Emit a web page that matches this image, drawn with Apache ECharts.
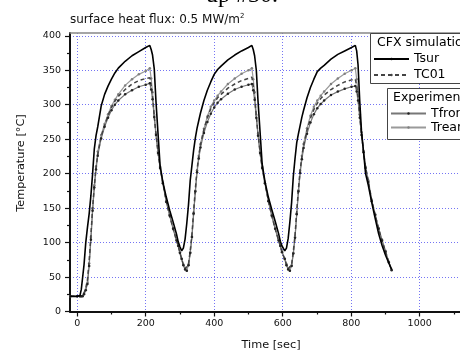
<!DOCTYPE html>
<html>
<head>
<meta charset="utf-8">
<script src="https://cdn.jsdelivr.net/npm/echarts@6/dist/echarts.min.js"></script>
<style>html,body{margin:0;padding:0;background:#fff;}#c{width:460px;height:351px;}</style>
</head>
<body>
<div id="c"></div>
<script>
// time axis samples [sec]
const timeSec = [
  -20,0,8,12,16,20,25,30,35,40,45,50,55,60,70,80,90,100,110,120,140,160,180,200,212,
  216,220,225,230,236,242,250,260,270,280,290,295,300,305,
  310,315,320,325,330,335,340,345,350,355,360,370,380,390,400,410,420,440,460,480,500,510,
  514,518,523,528,534,540,548,558,568,578,588,593,598,606,
  611,616,621,626,631,636,641,646,651,656,661,671,681,691,701,711,721,741,761,781,801,812,
  816,820,825,830,836,842,850,860,870,880,890,900,910,918
];
// CFX simulation
const tsur = [
  22,22,23,32,50,68,100,122,142,168,200,236,255,268,298,315,327,337,346,353,363,371,377,383,386,
  380,372,352,305,258,212,188,166,147,130,112,101,94,88,
  92,105,128,155,190,212,234,252,266,277,288,306,321,333,344,351,356,365,372,378,383,386,
  380,371,350,305,260,214,189,166,148,131,113,102,95,88,
  92,106,130,158,196,222,245,258,270,282,292,310,325,337,348,353,357,366,373,378,383,386,
  378,358,305,262,232,200,183,158,135,113,96,82,70,61
];
const tc01 = [
  22,22,22,22,23,27,34,46,74,110,150,182,208,228,254,270,284,296,305,312,322,330,335,338,339,
  328,312,283,257,231,209,187,160,139,120,103,95,85,76,
  68,62,60,69,88,112,146,178,206,226,242,264,281,294,303,310,315,324,330,335,338,340,
  328,312,283,257,231,209,187,161,139,120,103,95,86,76,
  68,62,60,68,87,111,145,178,205,225,241,263,280,293,302,309,314,322,328,333,336,337,
  327,311,283,258,232,209,189,161,140,120,103,87,71,60
];
// Experiment
const tfront = [
  22,22,22,22,22,25,31,40,66,104,146,180,206,226,251,268,281,292,300,306,315,321,326,329,331,
  322,308,282,256,230,208,186,159,139,120,103,95,85,76,
  67,61,59,67,85,108,142,174,202,222,238,259,275,287,296,303,308,316,322,326,329,330,
  321,307,281,255,230,208,186,160,139,120,103,95,86,76,
  67,61,59,66,84,107,141,174,201,221,237,258,274,286,295,301,306,314,319,323,326,327,
  319,306,281,256,231,208,188,160,140,120,103,87,71,60
];
const trear = [
  22,22,22,22,23,26,32,42,70,108,150,183,210,232,256,272,286,298,307,315,328,337,344,349,353,
  338,318,285,258,232,210,188,160,140,121,104,96,86,77,
  68,62,59,68,86,108,142,175,205,226,243,265,283,297,306,313,319,330,338,345,350,353,
  337,318,285,258,232,210,188,161,140,121,104,96,87,77,
  69,62,59,67,85,108,142,176,204,226,243,266,284,297,306,313,319,330,338,345,350,353,
  337,318,286,260,233,210,190,162,141,121,104,88,72,61
];
// ticks
const xMajorTicks = [0,200,400,600,800,1000,1200];
const xMinorTicks = [100,300,500,700,900,1100];
const yMajorTicks = [0,50,100,150,200,250,300,350,400];
const yMinorTicks = [25,75,125,175,225,275,325,375];

const pair = arr => timeSec.map((t, i) => [t, arr[i]]);
const FONT = 'DejaVu Sans';
const gridLine = { show: true, lineStyle: { color: '#5c5cf2', type: [1, 2], width: 1, opacity: 0.85 } };
const plain = v => String(v);

const chart = echarts.init(document.getElementById('c'), null, { renderer: 'canvas' });
chart.setOption({
  animation: false,
  backgroundColor: '#fff',
  title: {
    text: 'surface heat flux: 0.5 MW/m{s|2}',
    left: 70, top: 13, padding: 0,
    textStyle: {
      fontFamily: FONT, fontSize: 12, fontWeight: 'normal', color: '#111', lineHeight: 14,
      rich: { s: { fontFamily: FONT, fontSize: 7, verticalAlign: 'top', lineHeight: 14, color: '#111' } }
    }
  },
  grid: { left: 70, top: 33, width: 418.2, height: 278.5, containLabel: false, outerBoundsMode: 'none' },
  xAxis: [
    {
      type: 'value', min: -21, max: 1200, position: 'bottom',
      axisLine: { show: true, onZero: false, lineStyle: { color: '#111', width: 2 } },
      axisTick: { show: true, inside: false, length: 5, customValues: xMajorTicks, lineStyle: { color: '#111', width: 1.2 } },
      axisLabel: { show: true, customValues: xMajorTicks, formatter: plain, margin: 7, fontFamily: FONT, fontSize: 9.5, color: '#111' },
      splitLine: gridLine
    },
    {
      type: 'value', min: -21, max: 1200, position: 'bottom',
      axisLine: { show: false, onZero: false },
      axisTick: { show: true, inside: false, length: 3, customValues: xMinorTicks, lineStyle: { color: '#111', width: 1.2 } },
      axisLabel: { show: false },
      splitLine: { show: false }
    },
    {
      type: 'value', min: -21, max: 1200, position: 'top',
      axisLine: { show: true, onZero: false, lineStyle: { color: '#888', width: 1.5 } },
      axisTick: { show: false }, axisLabel: { show: false }, splitLine: { show: false }
    }
  ],
  yAxis: [
    {
      type: 'value', min: 0, max: 404, position: 'left',
      axisLine: { show: true, onZero: false, lineStyle: { color: '#111', width: 2 } },
      axisTick: { show: true, inside: false, length: 5, customValues: yMajorTicks, lineStyle: { color: '#111', width: 1.2 } },
      axisLabel: { show: true, customValues: yMajorTicks, formatter: plain, margin: 9, fontFamily: FONT, fontSize: 9.5, color: '#111' },
      splitLine: gridLine
    },
    {
      type: 'value', min: 0, max: 404, position: 'left',
      axisLine: { show: false, onZero: false },
      axisTick: { show: true, inside: false, length: 3, customValues: yMinorTicks, lineStyle: { color: '#111', width: 1.2 } },
      axisLabel: { show: false }, splitLine: { show: false }
    }
  ],
  legend: [
    {
      data: ['Tsur', 'TC01'], orient: 'vertical', left: 373, top: 52, padding: 0,
      itemWidth: 35, itemHeight: 3, itemGap: 2, selectedMode: false, z: 60,
      textStyle: { fontFamily: FONT, fontSize: 12.5, color: '#000', lineHeight: 14 }
    },
    {
      data: ['Tfront', 'Trear'], orient: 'vertical', left: 390, top: 107, padding: 0,
      itemWidth: 35, itemHeight: 3, itemGap: 1, selectedMode: false, z: 60,
      textStyle: { fontFamily: FONT, fontSize: 12.5, color: '#000', lineHeight: 13 }
    }
  ],
  graphic: [
    { type: 'text', x: 242, y: -4, z: 5,
      style: { text: 'up #30.', fontFamily: 'Liberation Serif', fontSize: 24, fill: '#000', align: 'center', verticalAlign: 'middle' } },
    { type: 'text', x: 21, y: 163, rotation: Math.PI / 2, z: 5,
      style: { text: 'Temperature [°C]', fontFamily: FONT, fontSize: 11.3, fill: '#111', align: 'center', verticalAlign: 'middle' } },
    { type: 'text', x: 271, y: 345, z: 5,
      style: { text: 'Time [sec]', fontFamily: FONT, fontSize: 11.3, fill: '#111', align: 'center', verticalAlign: 'middle' } },
    { type: 'rect', z: 50, shape: { x: 370.5, y: 33.5, width: 120, height: 50 },
      style: { fill: '#fff', stroke: '#444', lineWidth: 1 } },
    { type: 'rect', z: 50, shape: { x: 387.5, y: 88.5, width: 100, height: 51 },
      style: { fill: '#fff', stroke: '#444', lineWidth: 1 } },
    { type: 'text', x: 377, y: 43, z: 55,
      style: { text: 'CFX simulation', fontFamily: FONT, fontSize: 12.5, fill: '#000', align: 'left', verticalAlign: 'middle' } },
    { type: 'text', x: 393, y: 98, z: 55,
      style: { text: 'Experiment', fontFamily: FONT, fontSize: 12.5, fill: '#000', align: 'left', verticalAlign: 'middle' } }
  ],
  series: [
    { name: 'Trear', type: 'line', xAxisIndex: 0, yAxisIndex: 0, data: pair(trear),
      symbol: 'circle', symbolSize: 2.5, showSymbol: true, showAllSymbol: true,
      lineStyle: { color: '#9a9a9a', width: 1.2 }, itemStyle: { color: '#808080' }, z: 2 },
    { name: 'Tfront', type: 'line', xAxisIndex: 0, yAxisIndex: 0, data: pair(tfront),
      symbol: 'circle', symbolSize: 2.5, showSymbol: true, showAllSymbol: true,
      lineStyle: { color: '#777', width: 1.2 }, itemStyle: { color: '#222' }, z: 3 },
    { name: 'TC01', type: 'line', xAxisIndex: 0, yAxisIndex: 0, data: pair(tc01),
      symbol: 'none', lineStyle: { color: '#444', width: 1.5, type: [4, 3] }, itemStyle: { color: '#444' }, z: 3 },
    { name: 'Tsur', type: 'line', xAxisIndex: 0, yAxisIndex: 0, data: pair(tsur),
      symbol: 'none', lineStyle: { color: '#000', width: 1.6 }, itemStyle: { color: '#000' }, z: 4 }
  ]
});
</script>
</body>
</html>
